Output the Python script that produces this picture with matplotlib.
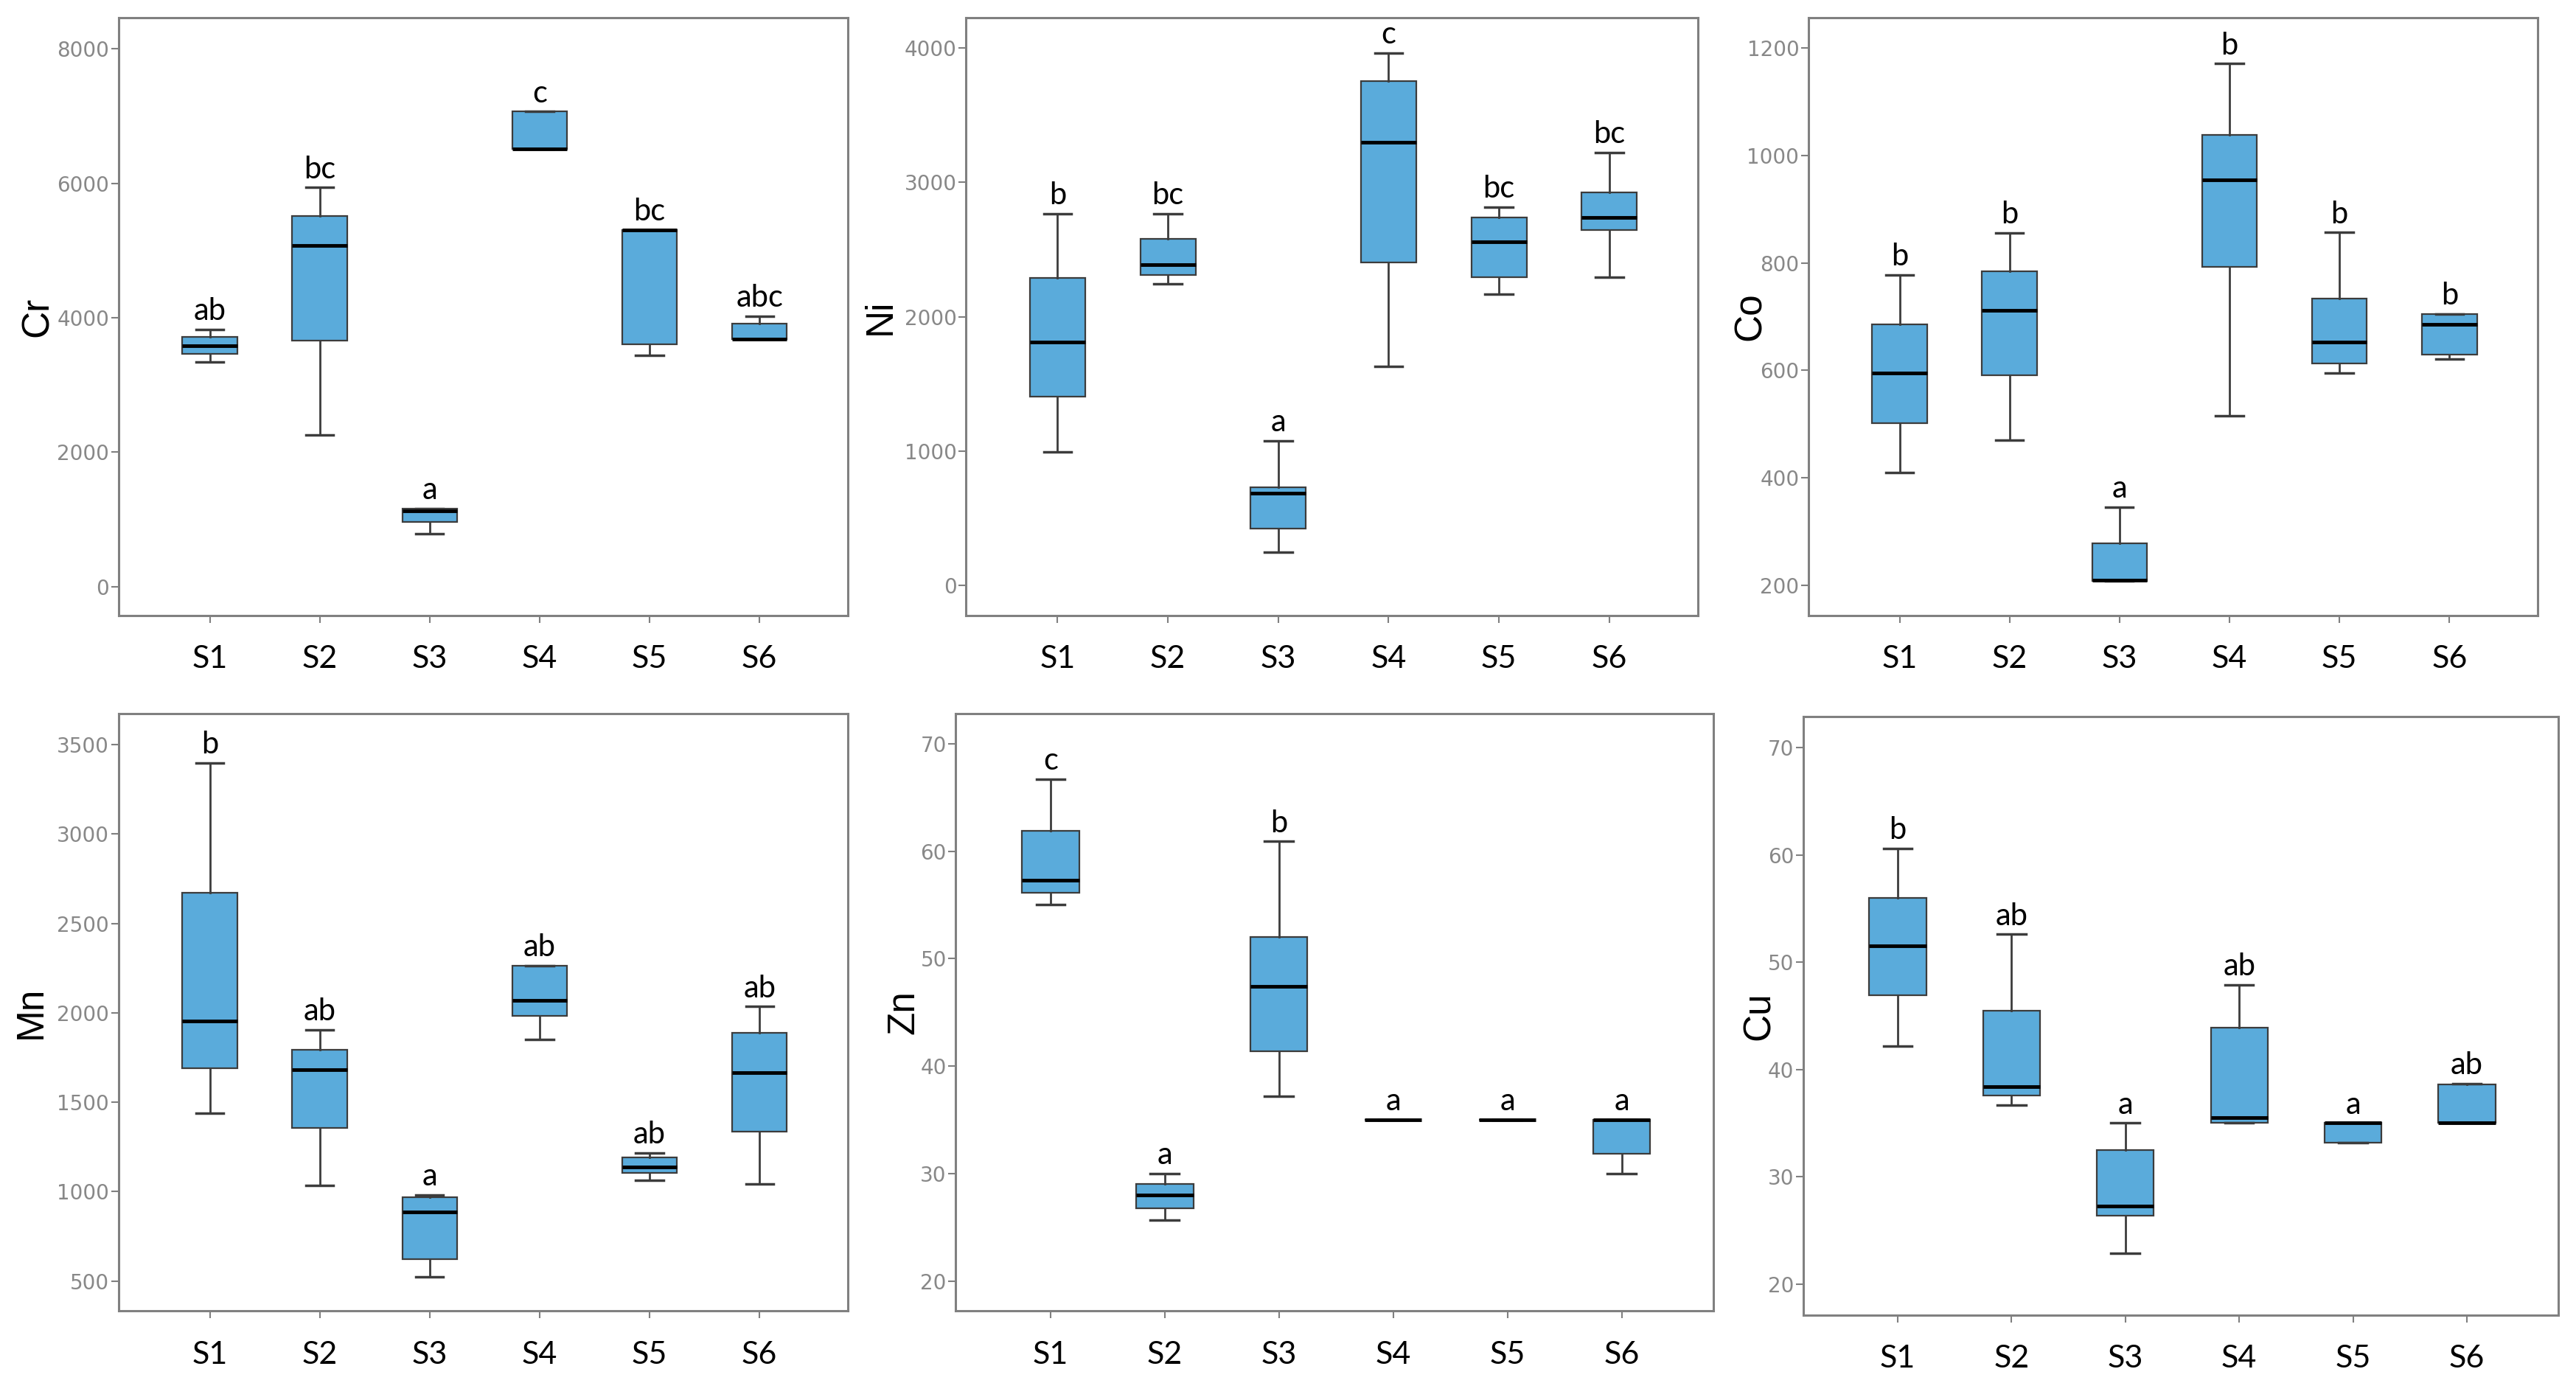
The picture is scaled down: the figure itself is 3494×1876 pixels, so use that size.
import matplotlib.pyplot as plt

sites = ['S1', 'S2', 'S3', 'S4', 'S5', 'S6']

# Cr
cr_min = [3346, 2255, 789, 6508, 3445, 3681]
cr_q1 = [3464, 3661, 966, 6508, 3609, 3681]
cr_med = [3583, 5075, 1131, 6508, 5305, 3681]
cr_q3 = [3714, 5509, 1164, 7067, 5305, 3912]
cr_max = [3826, 5936, 1164, 7067, 5305, 4023]
cr_letters = ['ab', 'bc', 'a', 'c', 'bc', 'abc']

# Ni
ni_min = [995, 2247, 247, 1628, 2168, 2293]
ni_q1 = [1407, 2313, 422, 2405, 2293, 2646]
ni_med = [1812, 2385, 685, 3301, 2560, 2741]
ni_q3 = [2287, 2577, 731, 3756, 2741, 2923]
ni_max = [2768, 2768, 1077, 3964, 2817, 3222]
ni_letters = ['b', 'bc', 'a', 'c', 'bc', 'bc']

# Co
co_min = [410, 470, 208, 515, 595, 621]
co_q1 = [502, 591, 208, 793, 613, 630]
co_med = [595, 712, 210, 955, 653, 686]
co_q3 = [686, 784, 278, 1039, 734, 705]
co_max = [778, 856, 346, 1171, 857, 705]
co_letters = ['b', 'b', 'a', 'b', 'b', 'b']

# Mn
mn_min = [1437, 1033, 522, 1851, 1065, 1042]
mn_q1 = [1691, 1356, 623, 1984, 1104, 1336]
mn_med = [1952, 1681, 887, 2070, 1139, 1664]
mn_q3 = [2670, 1792, 968, 2263, 1190, 1886]
mn_max = [3397, 1905, 981, 2263, 1217, 2036]
mn_letters = ['b', 'ab', 'a', 'ab', 'ab', 'ab']

# Zn
zn_min = [55.0, 25.7, 37.2, 35.0, 35.0, 30.0]
zn_q1 = [56.1, 26.8, 41.4, 35.0, 35.0, 31.85]
zn_med = [57.3, 28.0, 47.4, 35.0, 35.0, 35.0]
zn_q3 = [61.9, 29.0, 52.0, 35.0, 35.0, 35.0]
zn_max = [66.7, 30.0, 60.9, 35.0, 35.0, 35.0]
zn_letters = ['c', 'a', 'b', 'a', 'a', 'a']

# Cu
cu_min = [42.2, 36.7, 22.9, 35.0, 33.2, 35.0]
cu_q1 = [46.9, 37.6, 26.4, 35.0, 33.2, 35.0]
cu_med = [51.5, 38.4, 27.3, 35.5, 35.0, 35.0]
cu_q3 = [56.0, 45.5, 32.5, 43.9, 35.0, 38.6]
cu_max = [60.6, 52.6, 35.0, 47.9, 35.0, 38.7]
cu_letters = ['b', 'ab', 'a', 'ab', 'a', 'ab']

panels = [
    ('Cr', cr_min, cr_q1, cr_med, cr_q3, cr_max, cr_letters),
    ('Ni', ni_min, ni_q1, ni_med, ni_q3, ni_max, ni_letters),
    ('Co', co_min, co_q1, co_med, co_q3, co_max, co_letters),
    ('Mn', mn_min, mn_q1, mn_med, mn_q3, mn_max, mn_letters),
    ('Zn', zn_min, zn_q1, zn_med, zn_q3, zn_max, zn_letters),
    ('Cu', cu_min, cu_q1, cu_med, cu_q3, cu_max, cu_letters),
]

# layout
rects = [
    [0.046, 0.555, 0.283, 0.432],
    [0.375, 0.555, 0.284, 0.432],
    [0.702, 0.555, 0.283, 0.432],
    [0.046, 0.052, 0.283, 0.432],
    [0.371, 0.052, 0.294, 0.432],
    [0.700, 0.049, 0.293, 0.433],
]
ylims = [(-430, 8460), (-224, 4224), (144, 1256), (332, 3673), (17.2, 72.8), (17.1, 72.9)]
yticks = [range(0, 8001, 2000), range(0, 4001, 1000), range(200, 1201, 200),
          range(500, 3501, 500), range(20, 71, 10), range(20, 71, 10)]
label_x = [-0.086, -0.092, -0.055, -0.095, -0.045, -0.034]

box_color = '#5aabdb'
edge = '#3c3c3c'
frame = '#808080'

fig = plt.figure(figsize=(34.94, 18.76), dpi=100)

for i, (name, lo, q1, med, q3, hi, letters) in enumerate(panels):
    ax = fig.add_axes(rects[i])
    stats = []
    for j in range(len(sites)):
        stats.append({'whislo': lo[j], 'q1': q1[j], 'med': med[j],
                      'q3': q3[j], 'whishi': hi[j], 'fliers': []})
    ax.bxp(stats, positions=range(1, 7), widths=0.5, capwidths=0.25,
           patch_artist=True, showfliers=False,
           boxprops=dict(facecolor=box_color, edgecolor=edge, linewidth=1.6),
           medianprops=dict(color='black', linewidth=3.5),
           whiskerprops=dict(color=edge, linewidth=2),
           capprops=dict(color=edge, linewidth=2.5))
    for j in range(len(sites)):
        ax.annotate(letters[j], (j + 1, hi[j]), xytext=(0, 4), textcoords='offset points',
                    ha='center', va='bottom', fontsize=30, family=['Lato', 'DejaVu Sans'])
    ax.set_xlim(0.17, 6.8)
    ax.set_ylim(*ylims[i])
    ax.set_xticks(range(1, 7))
    ax.set_xticklabels(sites, fontsize=31, family=['Lato', 'DejaVu Sans'])
    ax.set_yticks(list(yticks[i]))
    ax.tick_params(axis='y', labelsize=20, labelcolor='#888888', color=frame,
                   length=7, width=1.5, pad=2)
    ax.tick_params(axis='x', color=frame, length=7, width=1.5, pad=22)
    ax.set_ylabel(name, fontsize=37, family=['Liberation Sans', 'DejaVu Sans'])
    ax.yaxis.set_label_coords(label_x[i], 0.5)
    for s in ax.spines.values():
        s.set_color(frame)
        s.set_linewidth(2.2)

plt.savefig('out.png', dpi=100)
